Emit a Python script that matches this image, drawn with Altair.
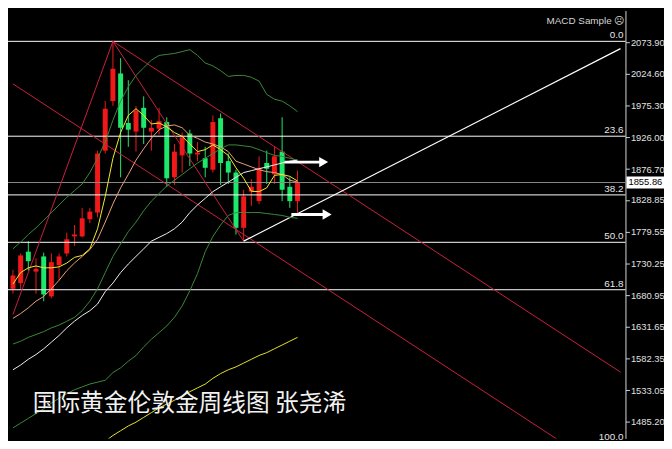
import altair as alt
import pandas as pd

# ---------------- data ----------------
opens = [1690.8, 1699.7, 1748.5, 1717.5, 1741.1, 1679.0, 1727.8, 1745.6, 1772.2, 1772.2,
         1798.8, 1809.2, 1905.3, 1982.2, 2025.1, 1948.2, 1934.9, 1971.8, 1934.9, 1939.3,
         1949.7, 1863.9, 1897.9, 1931.9, 1899.4, 1893.5, 1875.7, 1955.6, 1889.0, 1871.3,
         1785.5, 1841.7, 1826.9, 1886.1, 1868.3, 1903.8, 1849.1, 1826.9]
highs = [1720.4, 1745.6, 1764.8, 1738.2, 1747.0, 1745.6, 1745.6, 1778.1, 1789.9, 1816.5,
         1816.5, 1905.3, 1982.2, 2073.9, 2048.8, 2014.7, 1974.8, 1989.6, 1952.6, 1971.8,
         1957.1, 1915.6, 1933.4, 1937.8, 1918.6, 1911.2, 1960.0, 1963.0, 1900.8, 1875.7,
         1844.6, 1860.9, 1896.4, 1905.3, 1911.2, 1957.1, 1863.9, 1874.2]
lows = [1683.4, 1690.8, 1718.9, 1683.4, 1671.6, 1676.0, 1704.1, 1741.1, 1757.4, 1770.7,
        1792.9, 1801.8, 1900.8, 1974.8, 1863.9, 1911.2, 1903.8, 1915.6, 1905.3, 1930.4,
        1849.1, 1852.0, 1871.3, 1881.6, 1889.0, 1863.9, 1871.3, 1852.0, 1853.5, 1775.1,
        1764.8, 1819.5, 1822.5, 1853.5, 1853.5, 1826.9, 1816.5, 1807.7]
closes = [1711.5, 1742.6, 1733.7, 1721.9, 1682.0, 1732.2, 1741.1, 1767.7, 1775.1, 1800.3,
          1810.6, 1900.8, 1970.4, 2032.5, 1940.8, 1937.8, 1967.4, 1940.8, 1940.8, 1951.1,
          1862.4, 1903.8, 1926.0, 1900.8, 1902.3, 1878.7, 1949.7, 1886.1, 1871.3, 1785.5,
          1834.3, 1849.1, 1878.7, 1877.2, 1896.4, 1844.6, 1826.9, 1855.86]

band_upper = [1753.0, 1763.3, 1775.1, 1785.5, 1797.3, 1809.2, 1821.0, 1832.8, 1843.2, 1853.5,
              1871.3, 1893.5, 1918.6, 1952.6, 1982.2, 2004.4, 2022.1, 2034.0, 2045.8, 2053.2,
              2054.7, 2056.2, 2059.1, 2062.1, 2053.2, 2041.4, 2036.9, 2029.5, 2020.6, 2022.1,
              2022.1, 2019.2, 2013.3, 1992.6, 1985.2, 1982.2, 1974.8, 1965.9]
band_mid = [1605.1, 1609.5, 1615.4, 1619.9, 1624.3, 1630.2, 1634.6, 1640.5, 1646.5, 1656.8,
            1671.6, 1690.8, 1716.0, 1741.1, 1760.3, 1779.6, 1794.4, 1812.1, 1826.9, 1838.7,
            1850.6, 1859.4, 1868.3, 1877.2, 1886.1, 1893.5, 1900.8, 1908.2, 1914.2, 1914.2,
            1912.7, 1911.2, 1906.8, 1902.3, 1897.9, 1896.4, 1893.5, 1890.5]
band_lower = [1474.9, 1482.3, 1489.7, 1497.1, 1504.5, 1513.4, 1520.8, 1528.1, 1534.1, 1538.5,
              1543.0, 1545.9, 1548.9, 1560.7, 1568.1, 1578.4, 1587.3, 1600.6, 1612.5, 1622.8,
              1633.1, 1646.5, 1664.2, 1687.9, 1714.5, 1748.5, 1772.2, 1789.9, 1804.7, 1809.2,
              1809.2, 1809.2, 1809.2, 1807.7, 1806.2, 1804.7, 1801.8, 1800.3]
ma_fast = [1698.2, 1716.0, 1723.4, 1726.3, 1723.4, 1723.4, 1724.9, 1730.8, 1739.6, 1742.6,
           1752.9, 1784.0, 1834.3, 1893.5, 1933.4, 1960.0, 1970.4, 1960.0, 1946.7, 1948.2,
           1942.3, 1933.4, 1927.5, 1915.6, 1903.8, 1906.8, 1914.2, 1906.8, 1897.9, 1878.7,
           1862.4, 1842.2, 1841.7, 1847.6, 1866.9, 1868.3, 1865.4, 1858.2]
ma_mid = [1644.9, 1652.4, 1661.3, 1671.6, 1679.0, 1690.8, 1704.1, 1718.9, 1730.8, 1741.1,
          1751.5, 1767.7, 1794.4, 1822.5, 1847.6, 1868.3, 1890.5, 1908.2, 1924.5, 1937.8,
          1943.7, 1945.2, 1940.8, 1929.0, 1924.5, 1918.6, 1915.6, 1911.2, 1903.8, 1889.0,
          1884.6, 1880.1, 1875.7, 1872.7, 1871.3, 1868.3, 1859.4, 1856.5]
ma_white = [1565.1, 1572.5, 1581.4, 1588.8, 1597.7, 1608.0, 1618.4, 1630.2, 1640.5, 1649.4,
            1656.8, 1667.2, 1686.4, 1699.7, 1716.0, 1729.3, 1741.1, 1752.9, 1764.8, 1770.7,
            1776.6, 1784.0, 1794.4, 1809.2, 1821.0, 1831.3, 1841.7, 1849.1, 1856.5, 1863.9,
            1871.3, 1874.2, 1877.2, 1880.1, 1883.1, 1886.1, 1889.0, 1890.5]
ma_long_start = 12
ma_long = [1454.2, 1463.1, 1470.5, 1477.9, 1483.8, 1491.2, 1498.6, 1506.0, 1511.9, 1517.8,
           1523.7, 1531.1, 1537.0, 1542.9, 1551.8, 1559.2, 1565.1, 1569.6, 1575.5, 1581.4,
           1587.3, 1591.7, 1597.7, 1603.6, 1609.5, 1615.4]

fib_names = ["0.0", "23.6", "38.2", "50.0", "61.8", "100.0"]
fib_prices = [2075.0, 1927.7, 1836.6, 1763.0, 1689.4, 1451.0]

bid_price = 1855.86
axis_ticks = [2073.90, 2024.60, 1975.30, 1926.00, 1876.70, 1828.85, 1779.55,
              1730.25, 1680.95, 1631.65, 1582.35, 1533.05, 1485.20]

# drawn objects (line id, bar index, price)
red_seg_ids = ["fib", "fib", "drop", "drop", "ch_up", "ch_up", "ch_lo", "ch_lo"]
red_seg_i = [0, 13, 13, 30, 13, 79, 0, 79]
red_seg_p = [1650.9, 2075.0, 2075.0, 1764.8, 2075.0, 1561.5, 2009.0, 1393.0]
trend_i = [30, 79]
trend_p = [1764.8, 2063.7]

arrow_start_i = [35.3, 36.2]
arrow_end_i = [40.0, 40.4]
arrow_head_i = [40.4, 40.85]
arrow_p = [1887.5, 1806.2]

title_text = "国际黄金伦敦金周线图 张尧浠"
corner_text = "MACD Sample ☹"

# ---------------- build tables ----------------
n = len(opens)
cdf = pd.DataFrame({
    "i": list(range(n)), "open": opens, "high": highs, "low": lows, "close": closes,
})
cdf["dir"] = ["up" if c >= o else "down" for o, c in zip(opens, closes)]
up_df = cdf[cdf["dir"] == "up"]
dn_df = cdf[cdf["dir"] == "down"]

series = [("upper", band_upper, 0, "#3b8a3b"), ("mid", band_mid, 0, "#3b8a3b"),
          ("lower", band_lower, 0, "#3b8a3b"), ("white", ma_white, 0, "#f2f2f2"),
          ("long", ma_long, ma_long_start, "#e6e62a"), ("medium", ma_mid, 0, "#eea27e"),
          ("fast", ma_fast, 0, "#f2ee2e")]

rdf = pd.DataFrame({"seg": red_seg_ids, "i": red_seg_i, "price": red_seg_p})
tdf = pd.DataFrame({"seg": ["t", "t"], "i": trend_i, "price": trend_p})
adf = pd.DataFrame({"i0": arrow_start_i, "i1": arrow_end_i, "ih": arrow_head_i, "price": arrow_p})
fdf = pd.DataFrame({"label": fib_names, "price": fib_prices})
fib_lines = fdf[fdf["price"] > 1458.6]
bdf = pd.DataFrame({"price": [bid_price], "label": [f"{bid_price:.2f}"]})
one = pd.DataFrame({"a": [0]})

W, H = 625, 433
xs = alt.Scale(domain=[0, 79], nice=False, zero=False)
ys = alt.Scale(domain=[1458.6, 2122.7], nice=False, zero=False)
yaxis = alt.Axis(
    orient="right", values=axis_ticks, format=".2f", grid=False, title=None,
    labelColor="#e0e0e0", labelFont="Liberation Sans", labelFontSize=9.5,
    tickColor="#d0d0d0", tickSize=4, labelPadding=1, domainColor="#d8d8d8",
    labelOverlap=False, labelFlush=False)


def X(f="i"):
    return alt.X(f"{f}:Q", scale=xs, axis=None)


def Y(f="price"):
    return alt.Y(f"{f}:Q", scale=ys, axis=yaxis)


layers = []
for d, col in [(up_df, "#f01818"), (dn_df, "#1ee86c")]:
    layers.append(alt.Chart(d).mark_rule(strokeWidth=1, color=col).encode(
        x=X(), y=Y("low"), y2="high:Q"))
    layers.append(alt.Chart(d).mark_bar(width=5, color=col).encode(
        x=X(), y=Y("open"), y2="close:Q"))

layers.append(alt.Chart(fib_lines).mark_rule(color="white", strokeWidth=1).encode(y=Y()))
layers.append(alt.Chart(bdf).mark_rule(color="#8a8a8a", strokeWidth=1).encode(y=Y()))
layers.append(alt.Chart(rdf).mark_line(color="#cc2040", strokeWidth=1, clip=True).encode(
    x=X(), y=Y(), detail="seg:N"))
layers.append(alt.Chart(tdf).mark_line(color="white", strokeWidth=1.2, clip=True).encode(
    x=X(), y=Y(), detail="seg:N"))

for name, vals, start, col in series:
    sdf = pd.DataFrame({"i": list(range(start, start + len(vals))), "price": vals})
    layers.append(alt.Chart(sdf).mark_line(strokeWidth=1, color=col, clip=True).encode(
        x=X(), y=Y()))

layers.append(alt.Chart(adf).mark_rule(color="white", strokeWidth=3).encode(
    x=X("i0"), x2="i1:Q", y=Y()))
layers.append(alt.Chart(adf).mark_point(shape="triangle-right", filled=True, color="white",
                                        size=110, opacity=1).encode(x=X("ih"), y=Y()))
layers.append(alt.Chart(fdf).mark_text(align="right", baseline="bottom", dy=-1, fontSize=10,
                                       font="Liberation Sans", color="#e6e6e6").encode(
    x=alt.value(W - 2), y=Y(), text="label:N"))
layers.append(alt.Chart(bdf).mark_rule(color="white", strokeWidth=12, strokeCap="butt").encode(
    x=alt.value(W + 1), x2=alt.value(W + 40), y=Y()))
layers.append(alt.Chart(bdf).mark_text(align="left", baseline="middle", fontSize=9.5,
                                       font="Liberation Sans", color="black").encode(
    x=alt.value(W + 3), y=Y(), text="label:N"))
layers.append(alt.Chart(one).mark_text(align="right", baseline="middle", fontSize=10,
                                       font="Liberation Sans", color="#d6d6d6").encode(
    x=alt.value(624), y=alt.value(11), text=alt.value(corner_text)))
layers.append(alt.Chart(one).mark_text(align="left", baseline="middle", fontSize=24,
                                       font="Noto Sans CJK SC", color="#f2f2f2").encode(
    x=alt.value(25), y=alt.value(398), text=alt.value(title_text)))

chart = alt.layer(*layers).properties(
    width=W, height=H,
    autosize=alt.AutoSizeParams(type="none"),
    padding={"left": 0, "top": 0, "right": 39, "bottom": 0},
    background="black",
).configure_view(stroke=None)

chart.save("out.html", embed_options={"renderer": "svg", "actions": False})
